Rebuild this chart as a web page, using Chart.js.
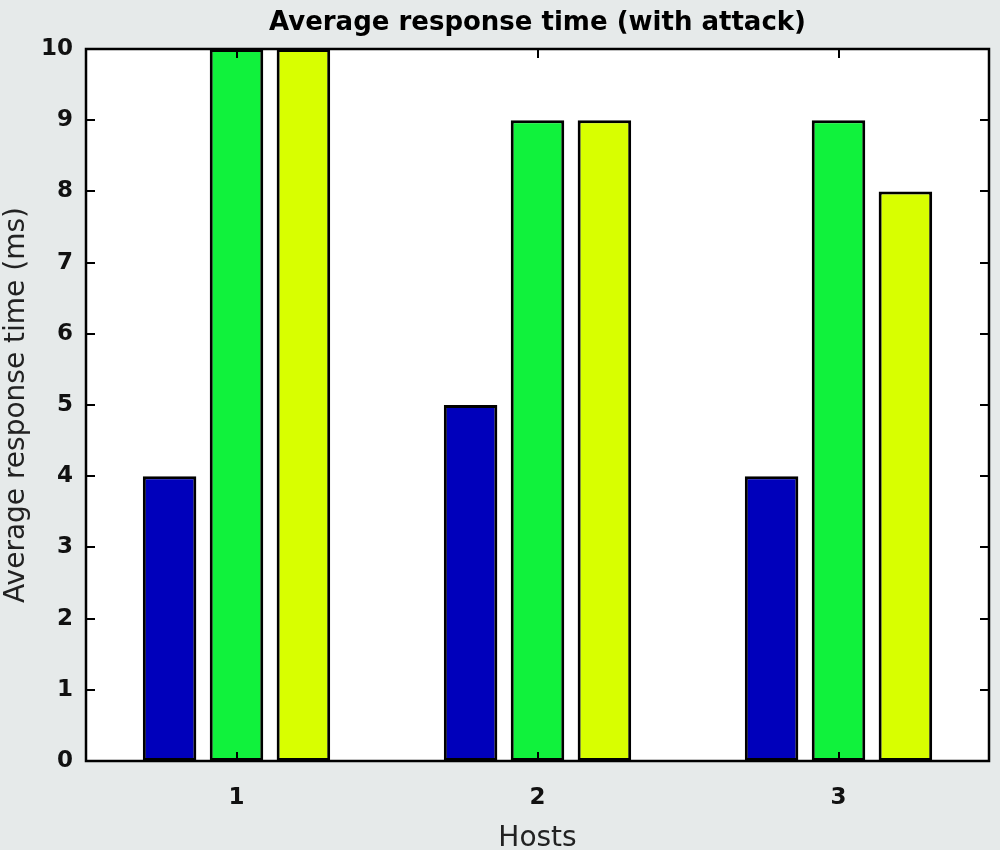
<!DOCTYPE html>
<html>
<head>
<meta charset="utf-8">
<script src="https://cdn.jsdelivr.net/npm/chart.js@4/dist/chart.umd.min.js"></script>
<style>
  html, body { margin: 0; padding: 0; background: #e6eaea; }
  #wrap { width: 1000px; height: 850px; }
</style>
</head>
<body>
<div id="wrap"><canvas id="chart" width="1000" height="850"></canvas></div>
<script>
const hosts = ["1", "2", "3"];
const series1 = [4, 5, 4];
const series2 = [10, 9, 9];
const series3 = [10, 9, 8];
const yTicks = [0, 1, 2, 3, 4, 5, 6, 7, 8, 9, 10];

const fontName = "'DejaVu Sans', sans-serif";

// matlab style box + inward ticks
const boxPlugin = {
  id: "box",
  beforeDraw(chart) {
    const ctx = chart.ctx;
    const a = chart.chartArea;
    ctx.save();
    ctx.fillStyle = "#e6eaea";
    ctx.fillRect(0, 0, chart.width, chart.height);
    ctx.fillStyle = "#ffffff";
    ctx.fillRect(a.left, a.top, a.right - a.left, a.bottom - a.top);
    ctx.restore();
  },
  afterDatasetsDraw(chart) {
    const ctx = chart.ctx;
    const a = chart.chartArea;
    const x = chart.scales.x;
    const y = chart.scales.y;
    const len = 9;
    ctx.save();
    ctx.strokeStyle = "#000";
    ctx.lineWidth = 2;
    ctx.beginPath();
    yTicks.forEach((v) => {
      const py = Math.round(y.getPixelForValue(v));
      ctx.moveTo(a.left, py);
      ctx.lineTo(a.left + len, py);
      ctx.moveTo(a.right, py);
      ctx.lineTo(a.right - len, py);
    });
    hosts.forEach((h, i) => {
      const px = Math.round(x.getPixelForValue(i));
      ctx.moveTo(px, a.bottom);
      ctx.lineTo(px, a.bottom - len);
      ctx.moveTo(px, a.top);
      ctx.lineTo(px, a.top + len);
    });
    ctx.stroke();
    ctx.lineWidth = 2.5;
    ctx.strokeRect(a.left, a.top, a.right - a.left, a.bottom - a.top);
    ctx.restore();
  },
};

const barStyle = {
  borderColor: "#000000",
  borderWidth: 3,
  borderSkipped: false,
  categoryPercentage: 0.667,
  barPercentage: 0.8,
};

new Chart(document.getElementById("chart"), {
  type: "bar",
  data: {
    labels: hosts,
    datasets: [
      { label: "a", data: series1, backgroundColor: "#0000bb", ...barStyle },
      { label: "b", data: series2, backgroundColor: "#10f23c", ...barStyle },
      { label: "c", data: series3, backgroundColor: "#d8ff00", ...barStyle },
    ],
  },
  options: {
    responsive: false,
    animation: false,
    layout: { padding: { left: 0, right: 11, top: 0, bottom: 0 } },
    plugins: {
      legend: { display: false },
      tooltip: { enabled: false },
      title: {
        display: true,
        fullSize: false,
        text: "Average response time (with attack)",
        color: "#000",
        font: { family: fontName, size: 26, weight: "bold", lineHeight: 1.2 },
        padding: { top: 8, bottom: 9.8 },
      },
    },
    scales: {
      x: {
        grid: { display: false },
        border: { display: false },
        ticks: {
          color: "#111",
          padding: 15,
          font: { family: fontName, size: 23, weight: "bold" },
        },
        title: {
          display: true,
          text: "Hosts",
          color: "#222",
          font: { family: fontName, size: 28, lineHeight: 0.8 },
          padding: { top: 0, bottom: 0 },
        },
        afterFit(scale) {
          scale.height = 89;
        },
      },
      y: {
        min: 0,
        max: 10,
        grid: { display: false },
        border: { display: false },
        ticks: {
          stepSize: 1,
          color: "#111",
          padding: 5,
          font: { family: fontName, size: 23, weight: "bold" },
        },
        title: {
          display: true,
          text: "Average response time (ms)",
          color: "#222",
          font: { family: fontName, size: 28, lineHeight: 1.2 },
          padding: { top: 0, bottom: 0 },
        },
        afterFit(scale) {
          scale.width = 86;
        },
      },
    },
  },
  plugins: [boxPlugin],
});
</script>
</body>
</html>
